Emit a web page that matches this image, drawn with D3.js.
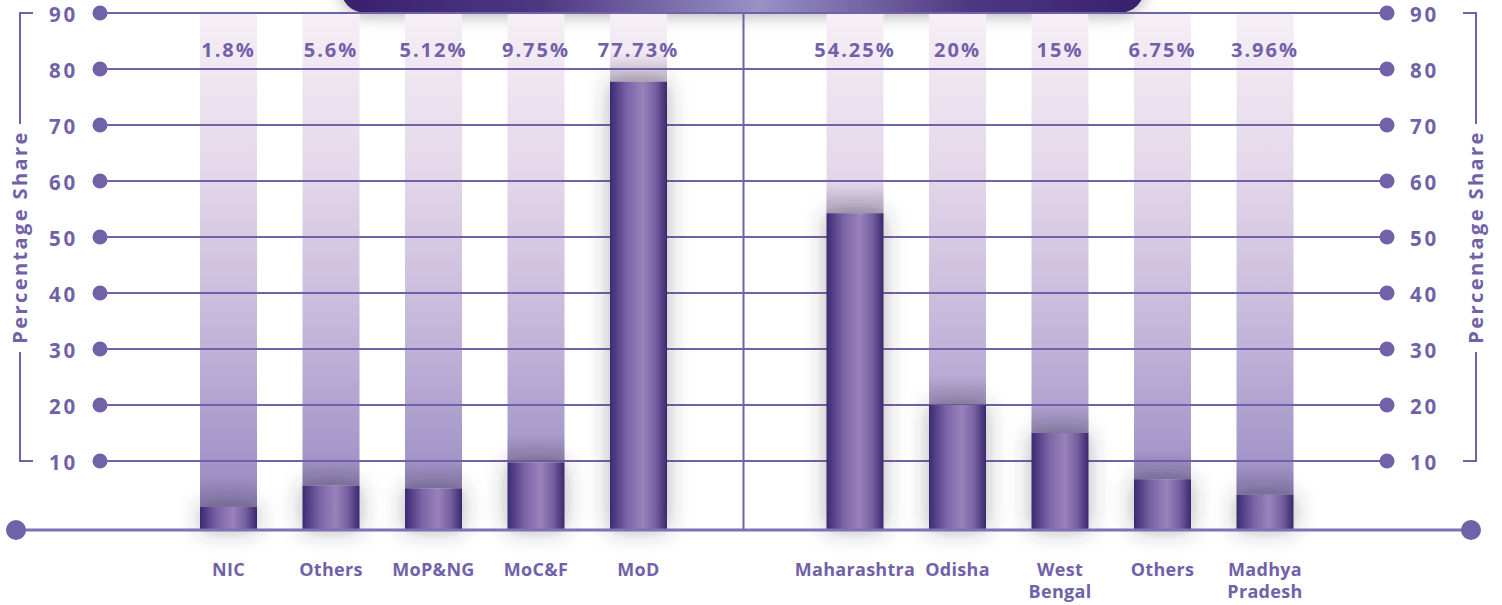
<!DOCTYPE html>
<html><head><meta charset="utf-8">
<script src="https://cdn.jsdelivr.net/npm/d3@7/dist/d3.min.js"></script>
<style>
html,body{margin:0;padding:0;background:#fff;}
svg{display:block;font-family:"Open Sans",Lato,sans-serif;font-weight:700;}
</style></head>
<body>
<svg id="chart" width="1502" height="605"></svg>
<script>
const leftCategories = [["NIC"],["Others"],["MoP&NG"],["MoC&F"],["MoD"]];
const leftValues = [1.8, 5.6, 5.12, 9.75, 77.73];
const leftLabels = ["1.8%","5.6%","5.12%","9.75%","77.73%"];
const rightCategories = [["Maharashtra"],["Odisha"],["West","Bengal"],["Others"],["Madhya","Pradesh"]];
const rightValues = [54.25, 20, 15, 6.75, 3.96];
const rightLabels = ["54.25%","20%","15%","6.75%","3.96%"];
const yTicks = [10,20,30,40,50,60,70,80,90];
const axisTitle = "Percentage Share";

const W = 1502, H = 605;
const svg = d3.select("#chart");
const purple = "#7161a9";
const baseY = 530;

const y = d3.scaleLinear().domain([0, 90]).range([517, 13]);
const xL = d3.scaleBand().domain(d3.range(leftValues.length)).range([177.25, 689.75]).paddingInner(0.444).paddingOuter(0.222);
const xR = d3.scaleBand().domain(d3.range(rightValues.length)).range([803.75, 1316.25]).paddingInner(0.444).paddingOuter(0.222);

const defs = svg.append("defs");
const tg = defs.append("linearGradient").attr("id","track").attr("x1",0).attr("x2",0).attr("gradientUnits","userSpaceOnUse")
  .attr("y1", 13).attr("y2", baseY);
[[0,"#f6eff6"],[0.3,"#e4d8ea"],[0.6,"#c6b8db"],[0.85,"#a597c9"],[1,"#8e7fb9"]].forEach(s=>tg.append("stop").attr("offset",s[0]).attr("stop-color",s[1]));
const bg = defs.append("linearGradient").attr("id","bar").attr("x1",0).attr("x2",1).attr("y1",0).attr("y2",0);
[[0,"#3c2a72"],[0.3,"#7a64a6"],[0.58,"#9a82bb"],[0.8,"#7560a0"],[1,"#3a286e"]].forEach(s=>bg.append("stop").attr("offset",s[0]).attr("stop-color",s[1]));
const bn = defs.append("linearGradient").attr("id","banner").attr("x1",0).attr("x2",1).attr("y1",0).attr("y2",0);
[[0,"#38206c"],[0.25,"#4e3882"],[0.52,"#9892c6"],[0.78,"#4e3882"],[1,"#38206c"]].forEach(s=>bn.append("stop").attr("offset",s[0]).attr("stop-color",s[1]));
const sg = defs.append("linearGradient").attr("id","topshade").attr("x1",0).attr("x2",0).attr("y1",0).attr("y2",1);
sg.append("stop").attr("offset",0).attr("stop-color","#5a5070").attr("stop-opacity",0);
sg.append("stop").attr("offset",1).attr("stop-color","#5a5070").attr("stop-opacity",0.3);
const f = defs.append("filter").attr("id","shadow").attr("x","-100%").attr("y","-100%").attr("width","300%").attr("height","300%");
f.append("feDropShadow").attr("dx",0).attr("dy",0).attr("stdDeviation",11).attr("flood-color","#3a3a40").attr("flood-opacity",0.4);
const f2 = defs.append("filter").attr("id","bshadow").attr("x","-20%").attr("y","-100%").attr("width","140%").attr("height","400%");
f2.append("feDropShadow").attr("dx",0).attr("dy",4).attr("stdDeviation",8).attr("flood-color","#555").attr("flood-opacity",0.4);

// banner
svg.append("rect").attr("x",340).attr("y",-40).attr("width",805).attr("height",53).attr("rx",26)
  .attr("fill","url(#banner)").attr("filter","url(#bshadow)");

const barTop = d => Math.min(y(d), baseY-10);

// tracks
function tracks(x, vals){
  const g = svg.append("g");
  g.selectAll("rect.t").data(vals).join("rect").attr("class","t")
    .attr("x",(d,i)=>x(i)).attr("width",x.bandwidth())
    .attr("y",y(90)).attr("height",d=>Math.max(0, barTop(d) - y(90)))
    .attr("fill","url(#track)");
  g.selectAll("rect.s").data(vals).join("rect").attr("class","s")
    .attr("x",(d,i)=>x(i)).attr("width",x.bandwidth())
    .attr("y",d=>barTop(d)-30).attr("height",30)
    .attr("fill","url(#topshade)");
}
tracks(xL, leftValues); tracks(xR, rightValues);

// gridlines
const xLeftDot = 100, xRightDot = 1387;
const grid = svg.append("g");
grid.selectAll("line").data(yTicks).join("line")
  .attr("x1",xLeftDot).attr("x2",xRightDot).attr("y1",d=>y(d)).attr("y2",d=>y(d))
  .attr("stroke",purple).attr("stroke-width",2);
grid.selectAll("circle.l").data(yTicks).join("circle").attr("class","l")
  .attr("cx",xLeftDot).attr("cy",d=>y(d)).attr("r",7.5).attr("fill",purple);
grid.selectAll("circle.r").data(yTicks).join("circle").attr("class","r")
  .attr("cx",xRightDot).attr("cy",d=>y(d)).attr("r",7.5).attr("fill",purple);
grid.selectAll("text.l").data(yTicks).join("text").attr("class","l")
  .attr("x",78).attr("y",d=>y(d)+8.6).attr("text-anchor","end")
  .attr("font-size",20.5).attr("letter-spacing",2.8).attr("fill",purple).text(d=>d);
grid.selectAll("text.r").data(yTicks).join("text").attr("class","r")
  .attr("x",1410).attr("y",d=>y(d)+8.6).attr("text-anchor","start")
  .attr("font-size",20.5).attr("letter-spacing",2.8).attr("fill",purple).text(d=>d);

// divider
svg.append("line").attr("x1",743.5).attr("x2",743.5).attr("y1",y(90)).attr("y2",baseY)
  .attr("stroke",purple).attr("stroke-width",2);

// bars
function bars(x, vals){
  svg.append("g").selectAll("rect").data(vals).join("rect")
    .attr("x",(d,i)=>x(i)).attr("width",x.bandwidth())
    .attr("y",d=>barTop(d)).attr("height",d=>baseY - barTop(d))
    .attr("fill","url(#bar)").attr("filter","url(#shadow)");
}
bars(xL, leftValues); bars(xR, rightValues);

// baseline
svg.append("line").attr("x1",16).attr("x2",1471).attr("y1",baseY).attr("y2",baseY)
  .attr("stroke","#8070b4").attr("stroke-width",3);
svg.append("circle").attr("cx",16).attr("cy",baseY).attr("r",10).attr("fill",purple);
svg.append("circle").attr("cx",1471).attr("cy",baseY).attr("r",10).attr("fill",purple);

// value labels
function valueLabels(x, labels){
  svg.append("g").selectAll("text").data(labels).join("text")
    .attr("x",(d,i)=>x(i)+x.bandwidth()/2).attr("y",57).attr("text-anchor","middle")
    .attr("font-size",20).attr("letter-spacing",2).attr("fill",purple).text(d=>d);
}
valueLabels(xL, leftLabels); valueLabels(xR, rightLabels);

// category labels
function catLabels(x, cats){
  const g = svg.append("g").selectAll("text").data(cats).join("text")
    .attr("x",(d,i)=>x(i)+x.bandwidth()/2).attr("y",576).attr("text-anchor","middle")
    .attr("font-size",18).attr("letter-spacing",0.3).attr("fill",purple);
  g.each(function(d,i){
    const t = d3.select(this);
    d.forEach((line,j)=>t.append("tspan").attr("x",x(i)+x.bandwidth()/2).attr("dy",j===0?0:22).text(line));
  });
}
catLabels(xL, leftCategories); catLabels(xR, rightCategories);

// axis titles with brackets
function axisTitleBracket(xLine, tickDir){
  const top = y(90), bot = y(10), mid = (top+bot)/2;
  const half = 106;
  const g = svg.append("g");
  g.append("path").attr("d",`M${xLine+tickDir*13},${top}H${xLine}V${mid-half-7}`).attr("fill","none").attr("stroke",purple).attr("stroke-width",2);
  g.append("path").attr("d",`M${xLine},${mid+half+9}V${bot}H${xLine+tickDir*13}`).attr("fill","none").attr("stroke",purple).attr("stroke-width",2);
  g.append("text").attr("transform",`translate(${xLine},${mid}) rotate(-90)`).attr("text-anchor","middle").attr("dy","0.36em")
    .attr("font-size",20).attr("letter-spacing",2.4).attr("fill",purple).text(axisTitle);
}
axisTitleBracket(20, 1);
axisTitleBracket(1476, -1);
</script>
</body></html>
